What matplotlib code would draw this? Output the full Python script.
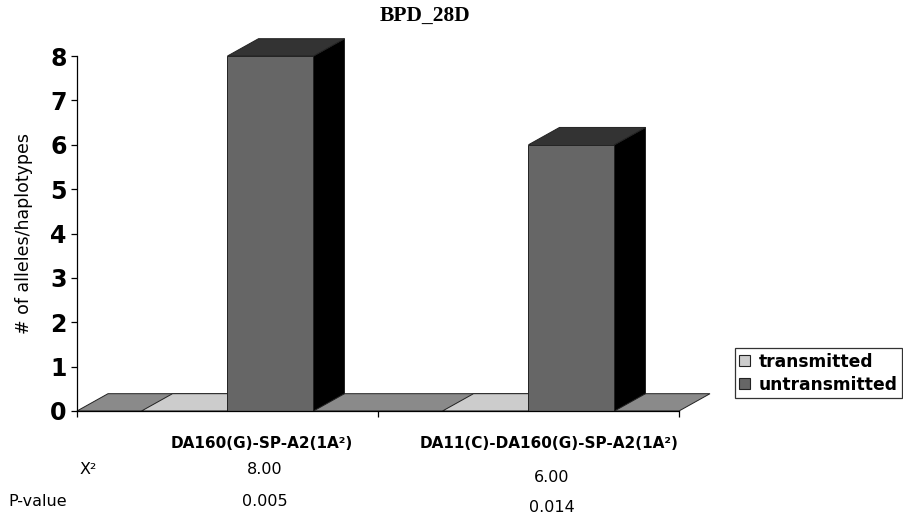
import matplotlib
matplotlib.use("Agg")
import matplotlib.pyplot as plt
from matplotlib.patches import Polygon, Patch

# ---- data ----
categories = ["DA160(G)-SP-A2(1A²)", "DA11(C)-DA160(G)-SP-A2(1A²)"]
series_names = ["transmitted", "untransmitted"]
transmitted = [0, 0]
untransmitted = [8, 6]
chi2_labels = ["8.00", "6.00"]
pvalue_labels = ["0.005", "0.014"]
yticks = [0, 1, 2, 3, 4, 5, 6, 7, 8]
title = "BPD_28D"
ylabel = "# of alleles/haplotypes"

# ---- style ----
W, H = 904, 517
col_trans = "#CCCCCC"
col_front = "#666666"
col_top = "#333333"
col_side = "#000000"
col_floor = "#8A8A8A"
edge = "#222222"
bar_w = 0.2857
ddx, ddy = 0.103, 0.39  # 3D depth offset in data units

fig = plt.figure(figsize=(W / 100, H / 100), dpi=100)
def fx(px):
    return px / W
def fy(py):
    return 1 - py / H

ax = fig.add_axes([fx(77), fy(411), (679 - 77) / W, (411 - 56) / H])
ax.set_xlim(-0.5, len(categories) - 0.5)
ax.set_ylim(0, 8)
for s in ["top", "right"]:
    ax.spines[s].set_visible(False)
ax.spines["left"].set_linewidth(0.9)
ax.spines["bottom"].set_linewidth(0.9)
ax.spines["bottom"].set_zorder(5)

# floor
x0, x1 = -0.5, len(categories) - 0.5
ax.add_patch(Polygon([(x0, 0), (x1, 0), (x1 + ddx, ddy), (x0 + ddx, ddy)],
                     closed=True, facecolor=col_floor, edgecolor=edge,
                     linewidth=0.7, clip_on=False, zorder=1))

def bar3d(xl, h, color):
    xr = xl + bar_w
    if h == 0:
        ax.add_patch(Polygon([(xl, 0), (xr, 0), (xr + ddx, ddy), (xl + ddx, ddy)],
                             closed=True, facecolor=color, edgecolor=edge,
                             linewidth=0.7, clip_on=False, zorder=2))
        return
    # front
    ax.add_patch(Polygon([(xl, 0), (xr, 0), (xr, h), (xl, h)], closed=True,
                         facecolor=color, edgecolor=edge, linewidth=0.7,
                         clip_on=False, zorder=3))
    # side
    ax.add_patch(Polygon([(xr, 0), (xr + ddx, ddy), (xr + ddx, h + ddy), (xr, h)],
                         closed=True, facecolor=col_side, edgecolor=edge,
                         linewidth=0.7, clip_on=False, zorder=3))
    # top
    ax.add_patch(Polygon([(xl, h), (xr, h), (xr + ddx, h + ddy), (xl + ddx, h + ddy)],
                         closed=True, facecolor=col_top, edgecolor=edge,
                         linewidth=0.7, clip_on=False, zorder=3))

for i in range(len(categories)):
    bar3d(i - bar_w, transmitted[i], col_trans)
    bar3d(i, untransmitted[i], col_front)

ax.set_yticks(yticks)
ax.set_yticklabels([str(v) for v in yticks], fontsize=17, fontweight="heavy",
                   family="DejaVu Sans")
ax.tick_params(axis="y", direction="out", length=4.5, width=0.9, pad=3)
ax.set_xticks([x0 + k for k in range(len(categories) + 1)])
ax.set_xticklabels([])
ax.tick_params(axis="x", direction="out", length=4, width=0.9)
ax.set_ylabel(ylabel, fontsize=12.5, family="DejaVu Sans", labelpad=12)

fig.text(fx(425), fy(16), title, ha="center", va="center", fontsize=15.5,
         fontweight="bold", family="Liberation Serif")

# category labels and statistics table
cat_x = [262, 549]
chi_y = [469, 477]
p_y = [502, 508]
for i, c in enumerate(categories):
    fig.text(fx(cat_x[i]), fy(443), c, ha="center", va="center", fontsize=11,
             fontweight="bold", family="DejaVu Sans")
    fig.text(fx(cat_x[i] + 3), fy(chi_y[i]), chi2_labels[i], ha="center",
             va="center", fontsize=11.5, family="DejaVu Sans")
    fig.text(fx(cat_x[i] + 3), fy(p_y[i]), pvalue_labels[i], ha="center",
             va="center", fontsize=11.5, family="DejaVu Sans")
fig.text(fx(88), fy(469), "X²", ha="center", va="center", fontsize=11.5,
         family="DejaVu Sans")
fig.text(fx(38), fy(502), "P-value", ha="center", va="center", fontsize=11.5,
         family="DejaVu Sans")

handles = [Patch(facecolor=col_trans, edgecolor=edge, linewidth=0.8),
           Patch(facecolor=col_front, edgecolor=edge, linewidth=0.8)]
leg = fig.legend(handles, series_names, loc="lower left",
                 bbox_to_anchor=(fx(735), fy(398)), frameon=True, fancybox=False,
                 shadow=False, prop={"family": "DejaVu Sans", "weight": "bold",
                                     "size": 12.3},
                 handlelength=0.65, handleheight=0.65, handletextpad=0.5,
                 borderpad=0.25, labelspacing=0.3, borderaxespad=0)
leg.get_frame().set_edgecolor("black")
leg.get_frame().set_linewidth(0.9)

fig.savefig("out.png", dpi=100)
